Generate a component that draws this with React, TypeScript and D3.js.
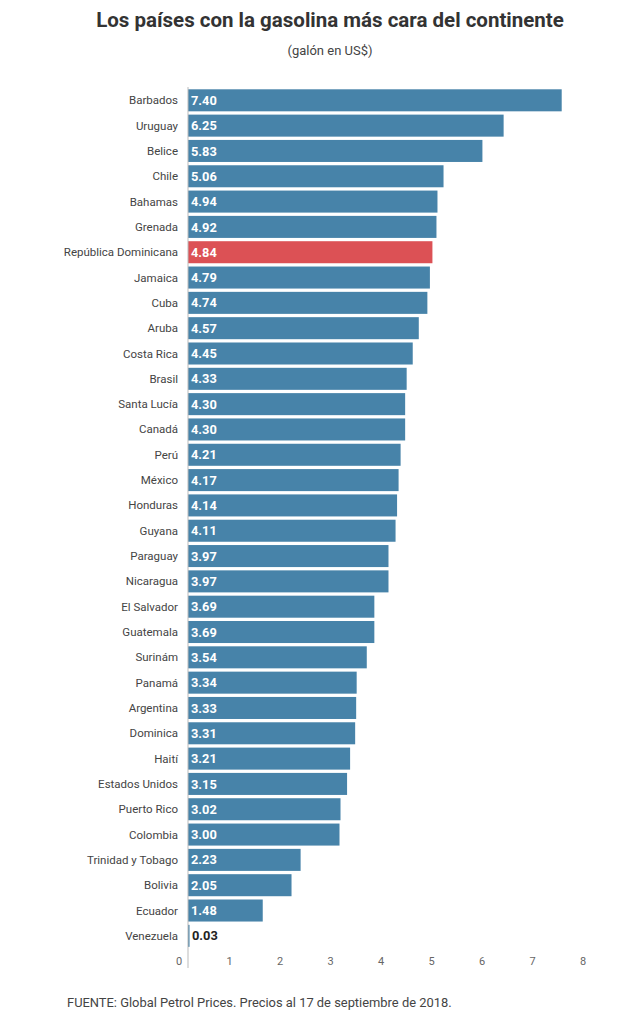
import React from 'react'
import * as d3 from 'd3'

// countries and price per gallon (US$), top to bottom
const countries: string[] = [
  'Barbados', 'Uruguay', 'Belice', 'Chile', 'Bahamas', 'Grenada', 'República Dominicana',
  'Jamaica', 'Cuba', 'Aruba', 'Costa Rica', 'Brasil', 'Santa Lucía', 'Canadá', 'Perú',
  'México', 'Honduras', 'Guyana', 'Paraguay', 'Nicaragua', 'El Salvador', 'Guatemala',
  'Surinám', 'Panamá', 'Argentina', 'Dominica', 'Haití', 'Estados Unidos', 'Puerto Rico',
  'Colombia', 'Trinidad y Tobago', 'Bolivia', 'Ecuador', 'Venezuela',
]

const prices: number[] = [
  7.40, 6.25, 5.83, 5.06, 4.94, 4.92, 4.84,
  4.79, 4.74, 4.57, 4.45, 4.33, 4.30, 4.30, 4.21,
  4.17, 4.14, 4.11, 3.97, 3.97, 3.69, 3.69,
  3.54, 3.34, 3.33, 3.31, 3.21, 3.15, 3.02,
  3.00, 2.23, 2.05, 1.48, 0.03,
]

const highlighted = 'República Dominicana'
const xTicks: number[] = [0, 1, 2, 3, 4, 5, 6, 7, 8]

const title = 'Los países con la gasolina más cara del continente'
const subtitle = '(galón en US$)'
const source = 'FUENTE: Global Petrol Prices. Precios al 17 de septiembre de 2018.'

const BLUE = '#4783a9'
const RED = '#dc5155'
const FONT = 'Roboto, "Noto Sans", sans-serif'

const App = () => {
  const width = 631
  const height = 1024

  const x0 = 188
  const xScale = d3.scaleLinear().domain([0, 8]).range([x0, x0 + 8 * 50.5])

  const yScale = d3.scaleBand<string>()
    .domain(countries)
    .range([87.65, 948.5])
    .paddingInner(0.13)
    .paddingOuter(0.065)

  const bw = yScale.bandwidth()

  return (
    <svg
      width={width}
      height={height}
      style={{ position: 'absolute', left: 0, top: 0, background: '#fff' }}
      fontFamily={FONT}
    >
      <text x={330} y={27} textAnchor="middle" fontSize={20.5} fontWeight={700} fill="#333">
        {title}
      </text>
      <text x={330} y={55} textAnchor="middle" fontSize={13} fill="#444">
        {subtitle}
      </text>

      {countries.map((c, i) => {
        const y = yScale(c) as number
        const w = xScale(prices[i]) - xScale(0)
        const inside = w > 40
        return (
          <g key={c}>
            <rect x={xScale(0)} y={y} width={w} height={bw}
              fill={c === highlighted ? RED : BLUE} />
            <text x={x0 - 10} y={y + bw / 2 + 4} textAnchor="end" fontSize={11.5} fill="#444">
              {c}
            </text>
            <text x={x0 + 3} y={y + bw / 2 + 4.6} fontSize={12.8} fontWeight={700}
              fill={inside ? '#fff' : '#222'} dx={inside ? 0 : 1}>
              {prices[i].toFixed(2)}
            </text>
          </g>
        )
      })}

      <line x1={x0} x2={x0} y1={87} y2={968} stroke="#bbb" strokeWidth={1} />

      {xTicks.map(t => (
        <text key={t} x={xScale(t) - 9} y={965} textAnchor="middle" fontSize={11} fill="#666">
          {t}
        </text>
      ))}

      <text x={67} y={1007} fontSize={12.9} fill="#444">
        {source}
      </text>
    </svg>
  )
}

export default App
